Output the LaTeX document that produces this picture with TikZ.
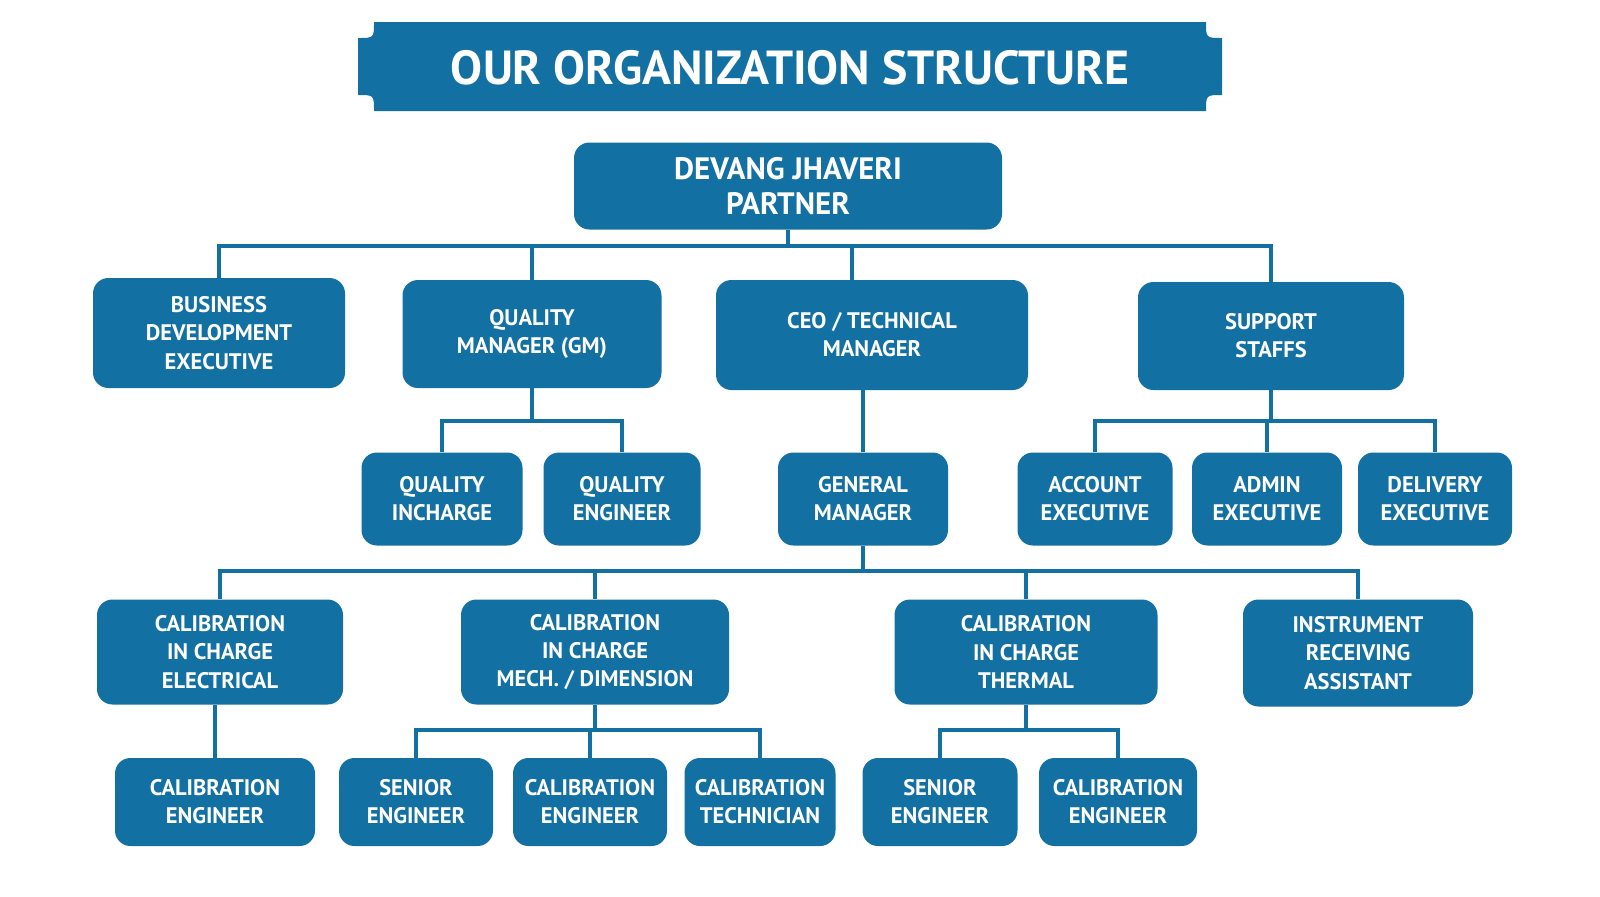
\documentclass[tikz,border=0pt]{standalone}
\usepackage{fontspec}
\setmainfont{PT Sans}
\usetikzlibrary{positioning}
\definecolor{brand}{RGB}{18,112,162}

\begin{document}
\begin{tikzpicture}[x=0.025cm, y=-0.025cm,
    % Styles
    box/.style={fill=brand, rounded corners=11pt, text=white, align=center, inner sep=0pt,
        font=\fontsize{16}{20}\selectfont\bfseries},
    link/.style={draw=brand, line width=2.8pt},
]
\useasboundingbox (0,0) rectangle (1600,896);

% Title banner
\fill[brand] (358+16,22) -- (1222-16,22) .. controls (1222-16,22+16) .. (1222,22+16)
    -- (1222,111-16) .. controls (1222-16,111-16) .. (1222-16,111)
    -- (358+16,111) .. controls (358+16,111-16) .. (358,111-16)
    -- (358,22+16) .. controls (358+16,22+16) .. (358+16,22) -- cycle;
\node[text=white, font=\fontsize{34}{34}\selectfont\bfseries] (title) at (790,68) {OUR ORGANIZATION STRUCTURE};

% Top level
\node[box, minimum width=428*0.025cm, minimum height=87*0.025cm, font=\fontsize{22}{25}\selectfont\bfseries] (partner) at (788,186) {DEVANG JHAVERI\\PARTNER};

% Second level
\node[box, minimum width=252*0.025cm, minimum height=110*0.025cm] (bde) at (219,333) {BUSINESS\\DEVELOPMENT\\EXECUTIVE};
\node[box, minimum width=259*0.025cm, minimum height=108*0.025cm] (qm) at (532,334) {QUALITY\\MANAGER (GM)};
\node[box, minimum width=312*0.025cm, minimum height=110*0.025cm] (ceo) at (872,335) {CEO / TECHNICAL\\MANAGER};
\node[box, minimum width=266*0.025cm, minimum height=108*0.025cm] (support) at (1271,336) {SUPPORT\\STAFFS};

% Third level
\node[box, minimum width=161*0.025cm, minimum height=93*0.025cm] (qincharge) at (442,499) {QUALITY\\INCHARGE};
\node[box, minimum width=157*0.025cm, minimum height=93*0.025cm] (qengineer) at (622,499) {QUALITY\\ENGINEER};
\node[box, minimum width=170*0.025cm, minimum height=93*0.025cm] (gm) at (863,499) {GENERAL\\MANAGER};
\node[box, minimum width=155*0.025cm, minimum height=93*0.025cm] (account) at (1095,499) {ACCOUNT\\EXECUTIVE};
\node[box, minimum width=150*0.025cm, minimum height=93*0.025cm] (admin) at (1267,499) {ADMIN\\EXECUTIVE};
\node[box, minimum width=154*0.025cm, minimum height=93*0.025cm] (delivery) at (1435,499) {DELIVERY\\EXECUTIVE};

% Fourth level
\node[box, minimum width=246*0.025cm, minimum height=105*0.025cm] (cicelec) at (220,652) {CALIBRATION\\IN CHARGE\\ELECTRICAL};
\node[box, minimum width=268*0.025cm, minimum height=105*0.025cm] (cicmech) at (595,652) {CALIBRATION\\IN CHARGE\\MECH. / DIMENSION};
\node[box, minimum width=263*0.025cm, minimum height=105*0.025cm] (victherm) at (1026,652) {CALIBRATION\\IN CHARGE\\THERMAL};
\node[box, minimum width=230*0.025cm, minimum height=107*0.025cm] (instrument) at (1358,653) {INSTRUMENT\\RECEIVING\\ASSISTANT};

% Bottom level
\node[box, minimum width=200*0.025cm, minimum height=88*0.025cm] (caleng1) at (215,802) {CALIBRATION\\ENGINEER};
\node[box, minimum width=154*0.025cm, minimum height=88*0.025cm] (senior1) at (416,802) {SENIOR\\ENGINEER};
\node[box, minimum width=154*0.025cm, minimum height=88*0.025cm] (caleng2) at (590,802) {CALIBRATION\\ENGINEER};
\node[box, minimum width=151*0.025cm, minimum height=88*0.025cm] (technician) at (760,802) {CALIBRATION\\TECHNICIAN};
\node[box, minimum width=155*0.025cm, minimum height=88*0.025cm] (senior2) at (940,802) {SENIOR\\ENGINEER};
\node[box, minimum width=158*0.025cm, minimum height=88*0.025cm] (caleng3) at (1118,802) {CALIBRATION\\ENGINEER};

% Connectors
\draw[link] (partner.south) -- ++(0,16) coordinate (bus1);
\foreach \n in {bde, qm, support} \draw[link] (bus1) -| (\n.north);
\draw[link] (bus1) -| ([xshift=-20*0.025cm]ceo.north);

\draw[link] (qm.south) -- ++(0,33) coordinate (bus2);
\foreach \n in {qincharge, qengineer} \draw[link] (bus2) -| (\n.north);

\draw[link] (ceo.south -| gm.north) -- (gm.north);

\draw[link] (support.south) -- ++(0,31) coordinate (bus3);
\foreach \n in {account, admin, delivery} \draw[link] (bus3) -| (\n.north);

\draw[link] (gm.south) -- ++(0,25) coordinate (bus4);
\foreach \n in {cicelec, cicmech, victherm, instrument} \draw[link] (bus4) -| (\n.north);

\draw[link] (cicelec.south -| caleng1.north) -- (caleng1.north);

\draw[link] (cicmech.south) -- ++(0,25) coordinate (bus5);
\foreach \n in {senior1, caleng2, technician} \draw[link] (bus5) -| (\n.north);

\draw[link] (victherm.south) -- ++(0,25) coordinate (bus6);
\foreach \n in {senior2, caleng3} \draw[link] (bus6) -| (\n.north);

\end{tikzpicture}
\end{document}
